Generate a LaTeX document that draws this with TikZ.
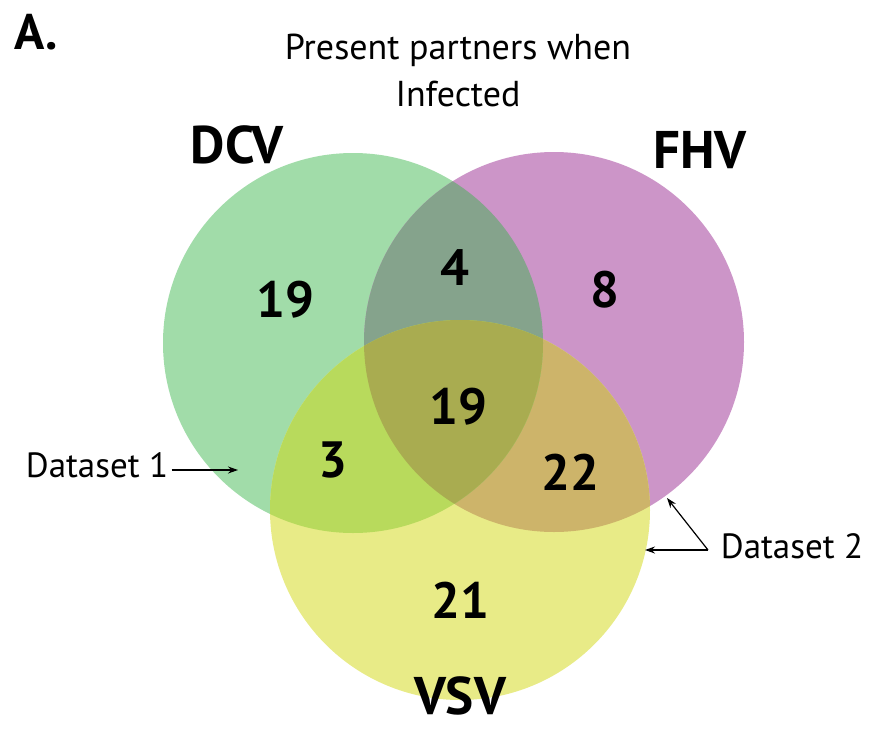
\documentclass[tikz,border=0pt]{standalone}
\usepackage{fontspec}
\setmainfont{PT Sans}
\usetikzlibrary{arrows.meta}
\definecolor{dcvgreen}{RGB}{161,220,169}
\definecolor{fhvpurple}{RGB}{204,149,200}
\definecolor{vsvyellow}{RGB}{232,235,135}
\definecolor{dcvfhv}{RGB}{133,163,140}
\definecolor{dcvvsv}{RGB}{184,218,92}
\definecolor{fhvvsv}{RGB}{205,180,106}
\definecolor{allthree}{RGB}{169,172,80}

\begin{document}
\begin{tikzpicture}[x=1pt, y=-1pt,
  virus/.style={font=\fontsize{53}{56}\selectfont\bfseries},
  count/.style={font=\fontsize{51}{54}\selectfont\bfseries},
  note/.style={font=\fontsize{35}{47}\selectfont},
  >={Stealth[length=10pt,width=7pt]}]
\useasboundingbox (0,0) rectangle (876,729);

\coordinate (cdcv) at (353,343);
\coordinate (cfhv) at (554,342);
\coordinate (cvsv) at (460,510);

% the three circles
\fill[dcvgreen] (cdcv) circle[radius=190];
\fill[fhvpurple] (cfhv) circle[radius=190];
\fill[vsvyellow] (cvsv) circle[radius=190];

% overlaps
\begin{scope}
\clip (cfhv) circle[radius=190];
\fill[fhvvsv] (cvsv) circle[radius=190];
\end{scope}
\begin{scope}
\clip (cdcv) circle[radius=190];
\fill[dcvfhv] (cfhv) circle[radius=190];
\fill[dcvvsv] (cvsv) circle[radius=190];
\clip (cfhv) circle[radius=190];
\fill[allthree] (cvsv) circle[radius=190];
\end{scope}

\node[font=\fontsize{50}{54}\selectfont\bfseries] (panel) at (36,32) {A.};
\node[note, font=\fontsize{36}{47}\selectfont, align=center] (title) at (458,70) {Present partners when\\Infected};

\node[virus] (dcv) at (237,145) {DCV};
\node[virus] (fhv) at (700,150) {FHV};
\node[virus, inner sep=1pt] (vsv) at (460,696) {VSV};

\node[count] (ndcv) at (285,300) {19};
\node[count] (ndf) at (455,268) {4};
\node[count] (nfhv) at (605,290) {8};
\node[count] (nall) at (458,407) {19};
\node[count] (ndv) at (333,460) {3};
\node[count] (nfv) at (570,472) {22};
\node[count] (nvsv) at (460,600) {21};

\node[note] (ds1) at (97,465) {Dataset 1};
\node[note] (ds2) at (792,546) {Dataset 2};

\coordinate (tip1) at (238,470);
\coordinate (fork) at (708,550);
\coordinate (tip2a) at (667,498);
\coordinate (tip2b) at (645,550);

\draw[->, line width=1.2pt] (ds1.east |- tip1) -- (tip1);
\draw[->, line width=1.2pt] (fork) -- (tip2a);
\draw[->, line width=1.2pt] (fork) -- (tip2b);
\end{tikzpicture}
\end{document}
